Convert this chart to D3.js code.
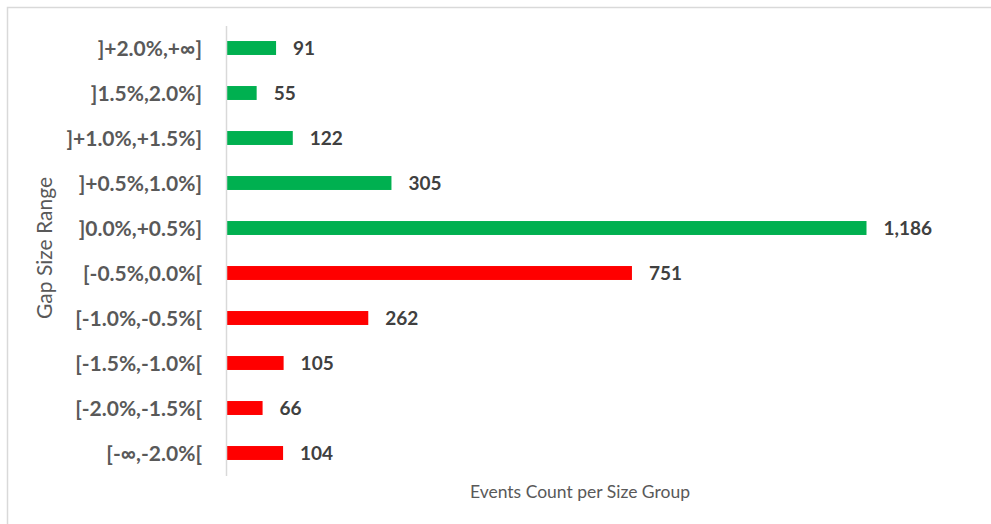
<!DOCTYPE html>
<html>
<head>
<meta charset="utf-8">
<script src="https://cdn.jsdelivr.net/npm/d3@7"></script>
<style>
  body { margin: 0; background: #fff; }
  svg { display: block; }
  text { font-family: Lato, "Open Sans", sans-serif; }
</style>
</head>
<body>
<div id="chart"></div>
<script>
// Gap size groups, top to bottom
const categories = [
  ']+2.0%,+∞]', ']1.5%,2.0%]', ']+1.0%,+1.5%]', ']+0.5%,1.0%]', ']0.0%,+0.5%]',
  '[-0.5%,0.0%[', '[-1.0%,-0.5%[', '[-1.5%,-1.0%[', '[-2.0%,-1.5%[', '[-∞,-2.0%['
];
const counts = [91, 55, 122, 305, 1186, 751, 262, 105, 66, 104];
const positive = [true, true, true, true, true, false, false, false, false, false];

const W = 991, H = 524;
const margin = { top: 25.5, right: 0, bottom: 48.5, left: 227 };

const svg = d3.select('#chart').append('svg')
  .attr('width', W)
  .attr('height', H);

// chart frame
svg.append('rect')
  .attr('x', 7.5).attr('y', 7.5)
  .attr('width', W).attr('height', H)
  .attr('fill', 'none')
  .attr('stroke', '#d9d9d9')
  .attr('stroke-width', 1.5);

const x = d3.scaleLinear()
  .domain([0, 1186])
  .range([margin.left, 866.5]);

const y = d3.scaleBand()
  .domain(categories)
  .range([margin.top, H - margin.bottom])
  .paddingInner(0.69)
  .paddingOuter(0.345);

// bars
svg.append('g').selectAll('rect')
  .data(categories)
  .join('rect')
  .attr('x', x(0))
  .attr('y', d => y(d))
  .attr('width', (d, i) => x(counts[i]) - x(0))
  .attr('height', y.bandwidth())
  .attr('fill', (d, i) => positive[i] ? '#00b050' : '#ff0000');

// value labels
svg.append('g').selectAll('text')
  .data(categories)
  .join('text')
  .attr('x', (d, i) => x(counts[i]) + 17)
  .attr('y', d => y(d) + y.bandwidth() / 2)
  .attr('dy', '0.36em')
  .attr('font-size', 19)
  .attr('font-weight', 'bold')
  .attr('fill', '#404040')
  .text((d, i) => d3.format(',')(counts[i]));

// category axis
const yAxis = svg.append('g')
  .attr('transform', `translate(${margin.left - 1},0)`)
  .call(d3.axisLeft(y).tickSize(0).tickPadding(24));
yAxis.select('.domain')
  .attr('stroke', '#d9d9d9')
  .attr('stroke-width', 1.5);
yAxis.selectAll('text')
  .attr('font-size', 21)
  .attr('font-weight', 'bold')
  .attr('fill', '#595959')
  .attr('dy', '0.36em')
  .style('font-family', 'Lato, sans-serif');

// axis titles
svg.append('text')
  .attr('transform', 'translate(52,248) rotate(-90)')
  .attr('text-anchor', 'middle')
  .attr('font-size', 21)
  .attr('fill', '#595959')
  .text('Gap Size Range');

svg.append('text')
  .attr('x', 580)
  .attr('y', 498)
  .attr('text-anchor', 'middle')
  .attr('font-size', 17.5)
  .attr('fill', '#595959')
  .text('Events Count per Size Group');
</script>
</body>
</html>
